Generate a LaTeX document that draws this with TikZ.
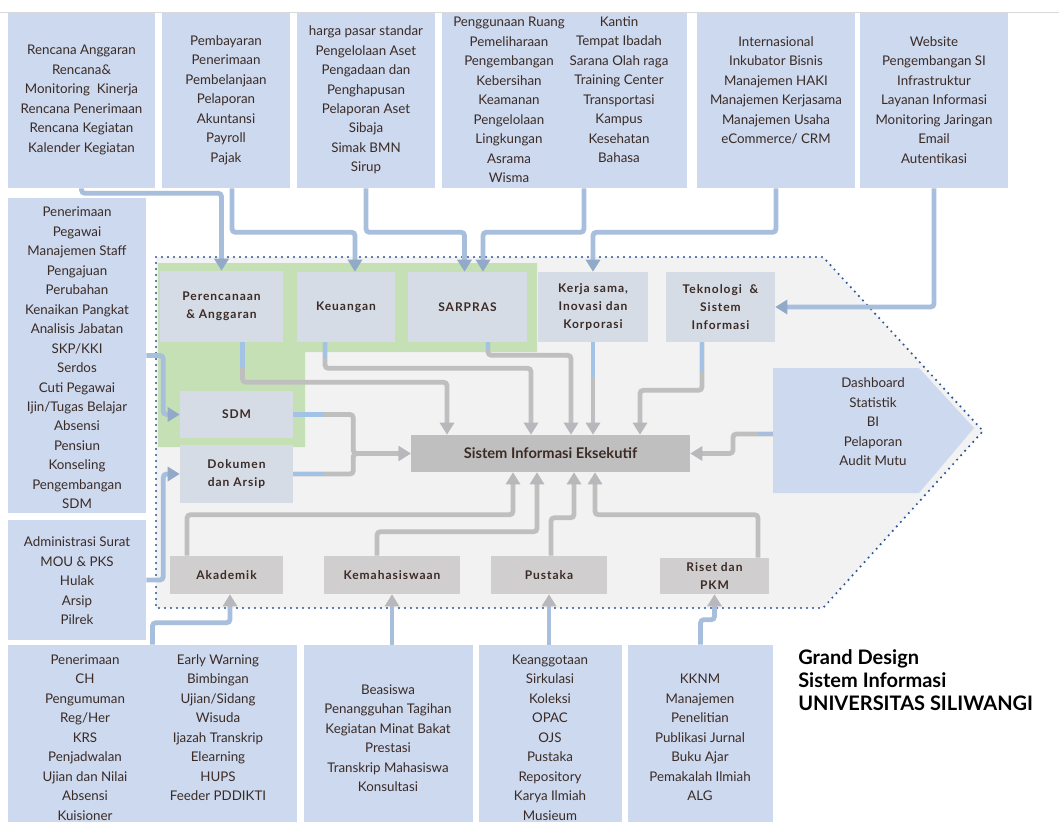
\documentclass[tikz,border=0pt]{standalone}
\usepackage{fontspec}
\setmainfont{Lato}
\newfontfamily\lblfont{Lato}[LetterSpace=8]
\usetikzlibrary{arrows.meta,calc}
\definecolor{oboxc}{HTML}{CCD9EE}
\definecolor{iboxc}{HTML}{D6DCE5}
\definecolor{lboxc}{HTML}{D0CECE}
\definecolor{siec}{HTML}{BFBFBF}
\definecolor{hexc}{HTML}{F2F2F2}
\definecolor{greenc}{HTML}{C5E0B4}
\definecolor{dotc}{HTML}{2E5597}
\definecolor{txtc}{HTML}{3B2B26}
\definecolor{lnblue}{HTML}{A8BEDD}
\definecolor{lnblue2}{HTML}{A3C3E6}
\definecolor{tipblue}{HTML}{93A9C8}
\definecolor{lngray}{HTML}{BFBFBF}
\definecolor{tipgray}{HTML}{B8B8BC}
\newcommand\bx[7]{%
  \pgfmathsetmacro\bxcx{(#3+#5)/2}%
  \pgfmathsetmacro\bxcy{(#4+#6)/2}%
  \pgfmathsetmacro\bxw{(#5-#3)*0.75}%
  \pgfmathsetmacro\bxh{(#6-#4)*0.75}%
  \node[#2, minimum width=\bxw pt, minimum height=\bxh pt] (#1) at (\bxcx,\bxcy) {#7};}
\begin{document}
\begin{tikzpicture}[x=0.75pt,y=-0.75pt,
  obox/.style={fill=oboxc, inner sep=0},
  ibox/.style={fill=iboxc, inner sep=0, text=txtc, align=center, font=\lblfont\bfseries\fontsize{9}{13.5}\selectfont},
  lbox/.style={fill=lboxc, inner sep=0, text=txtc, align=center, font=\lblfont\bfseries\fontsize{9}{13.5}\selectfont},
  siebox/.style={fill=siec, inner sep=0, text=txtc, font=\bfseries\fontsize{11}{13}\selectfont},
  txt/.style={text=txtc, align=center, inner sep=0, font=\fontsize{10}{14.6}\selectfont},
  bl/.style={line width=3.6pt, draw=lnblue, rounded corners=2.5pt},
  gl/.style={line width=3.6pt, draw=lngray, rounded corners=2.5pt},
  bseg/.style={line width=3.6pt, draw=lnblue2},
  tipB/.style={-{Triangle[width=10.5pt,length=9pt,color=tipblue]}},
  tipG/.style={-{Triangle[width=10.5pt,length=9pt,color=tipgray]}},
  title/.style={align=left, inner sep=0, anchor=north west, font=\bfseries\fontsize{15}{17.5}\selectfont}]
\useasboundingbox (0,0) rectangle (1059,821);
\clip (0,0) rectangle (1059,821);
\fill[white] (0,0) rectangle (1059,821);
\draw[black!15, line width=0.6pt] (0,12) -- (1059,12);

% hexagon frame
\fill[hexc] (156,257) -- (823,257) -- (983,431) -- (823,608) -- (156,608) -- cycle;
\fill[greenc] (158,263) -- (537,263) -- (537,352) -- (305,352) -- (305,447) -- (158,447) -- cycle;
\draw[dotc, line width=1.8pt, line cap=round, dash pattern=on 0pt off 4.5pt] (156,257) -- (823,257) -- (983,431) -- (823,608) -- (156,608) -- cycle;

% outer boxes top
\bx{T1}{obox}{8}{13}{155}{188}{}
\bx{T2}{obox}{162}{13}{290}{188}{}
\bx{T3}{obox}{297}{13}{435}{188}{}
\bx{T4}{obox}{442}{13}{687}{188}{}
\bx{T5}{obox}{697}{13}{855}{188}{}
\bx{T6}{obox}{860}{13}{1008}{188}{}
% left
\bx{L1}{obox}{8}{198}{146}{513}{}
\bx{L2}{obox}{8}{520}{146}{640}{}
% bottom
\bx{B1}{obox}{8}{645}{297}{835}{}
\bx{B2}{obox}{304}{645}{473}{835}{}
\bx{B3}{obox}{479}{645}{622}{835}{}
\bx{B4}{obox}{628}{645}{773}{835}{}

% texts
\node[txt] (T1t) at (81.5,100) {Rencana Anggaran\\Rencana\&\\Monitoring~~Kinerja\\Rencana Penerimaan\\Rencana Kegiatan\\Kalender Kegiatan};
\node[txt] (T2t) at (226,100) {Pembayaran\\Penerimaan\\Pembelanjaan\\Pelaporan\\Akuntansi\\Payroll\\Pajak};
\node[txt] (T3t) at (366,100) {harga pasar standar\\Pengelolaan Aset\\Pengadaan dan\\Penghapusan\\Pelaporan Aset\\Sibaja\\Simak BMN\\Sirup};
\node[txt] (T4a) at (509,100) {Penggunaan Ruang\\Pemeliharaan\\Pengembangan\\Kebersihan\\Keamanan\\Pengelolaan\\Lingkungan\\Asrama\\Wisma};
\node[txt] (T4b) at (619,89.5) {Kantin\\Tempat Ibadah\\Sarana Olah raga\\Training Center\\Transportasi\\Kampus\\Kesehatan\\Bahasa};
\node[txt] (T5t) at (776,90.5) {Internasional\\Inkubator Bisnis\\Manajemen HAKI\\Manajemen Kerjasama\\Manajemen Usaha\\eCommerce/ CRM};
\node[txt] (T6t) at (934,100) {Website\\Pengembangan SI\\Infrastruktur\\Layanan Informasi\\Monitoring Jaringan\\Email\\Autentikasi};
\node[txt] (L1t) at (77,358) {Penerimaan\\Pegawai\\Manajemen Staff\\Pengajuan\\Perubahan\\Kenaikan Pangkat\\Analisis Jabatan\\SKP/KKI\\Serdos\\Cuti Pegawai\\Ijin/Tugas Belajar\\Absensi\\Pensiun\\Konseling\\Pengembangan\\SDM};
\node[txt] (L2t) at (77,581) {Administrasi Surat\\MOU \& PKS\\Hulak\\Arsip\\Pilrek};
\node[txt] (B1a) at (85,737.5) {Penerimaan\\CH\\Pengumuman\\Reg/Her\\KRS\\Penjadwalan\\Ujian dan Nilai\\Absensi\\Kuisioner};
\node[txt] (B1b) at (218,727.5) {Early Warning\\Bimbingan\\Ujian/Sidang\\Wisuda\\Ijazah Transkrip\\Elearning\\HUPS\\Feeder PDDIKTI};
\node[txt] (B2t) at (388,738) {Beasiswa\\Penangguhan Tagihan\\Kegiatan Minat Bakat\\Prestasi\\Transkrip Mahasiswa\\Konsultasi};
\node[txt] (B3t) at (550,737.5) {Keanggotaan\\Sirkulasi\\Koleksi\\OPAC\\OJS\\Pustaka\\Repository\\Karya Ilmiah\\Musieum};
\node[txt] (B4t) at (700,737.5) {KKNM\\Manajemen\\Penelitian\\Publikasi Jurnal\\Buku Ajar\\Pemakalah Ilmiah\\ALG};

% dashboard
\fill[oboxc] (773,368) -- (919,368) -- (974,428) -- (919,493) -- (773,493) -- cycle;
\node[txt] (DBt) at (873,422) {Dashboard\\Statistik\\BI\\Pelaporan\\Audit Mutu};
\coordinate (dashL) at (773,434);

% module boxes
\bx{P}{ibox}{160}{271}{283}{342}{Perencanaan\\\& Anggaran}
\bx{K}{ibox}{297}{272}{395}{342}{Keuangan}
\bx{S}{ibox}{408}{272}{527}{342}{SARPRAS}
\bx{KS}{ibox}{538}{272}{648}{342}{Kerja sama,\\Inovasi dan\\Korporasi}
\bx{TS}{ibox}{666}{272}{775}{342}{Teknologi~~\&\\Sistem\\Informasi}
\bx{SDM}{ibox}{180}{391}{293}{438}{SDM}
\bx{DA}{ibox}{180}{445}{293}{503}{Dokumen\\dan Arsip}
\bx{SIE}{siebox}{411}{435}{690}{472}{Sistem Informasi Eksekutif}
\bx{Ak}{lbox}{170}{556}{283}{594}{Akademik}
\bx{Km}{lbox}{324}{556}{460}{594}{Kemahasiswaan}
\bx{Pu}{lbox}{491}{556}{607}{594}{Pustaka}
\bx{RP}{lbox}{660}{558}{769}{594}{Riset dan\\PKM}

% connectors: outer top -> modules
\draw[bl,tipB] (T1.south) -- ++(0,5) -| (P.north);
\draw[bl,tipB] ($(T2.south)+(6,0)$) -- ++(0,44) -| ($(K.north)+(9,0)$);
\draw[bl,tipB] (T3.south) -- ++(0,44) -| ($(S.north)+(-3,0)$);
\draw[bl,tipB] ($(T4.south)+(19.5,0)$) -- ++(0,44) -| ($(S.north)+(15.5,0)$);
\draw[bl,tipB] (T5.south) -- ++(0,44) -| (KS.north);
\draw[bl,tipB] (T6.south) |- (TS.east);

% left outer -> modules
\draw[bl,tipB] (L1.east) -- ++(17,0) |- (SDM.west);
\draw[bl,tipB] (L2.east) -- ++(17,0) |- (DA.west);

% modules -> SIE
\draw[gl,tipG] ($(P.south)+(21,0)$) -- ++(0,40) -| ($(SIE.north)+(-103.5,0)$);
\draw[gl,tipG] ($(K.south)+(-21,0)$) -- ++(0,26) -| ($(SIE.north)+(-19.5,0)$);
\draw[gl,tipG] ($(S.south)+(20.5,0)$) -- ++(0,13) -| ($(SIE.north)+(20.5,0)$);
\draw[gl,tipG] (KS.south) -- (KS.south |- SIE.north);
\draw[gl,tipG] ($(TS.south)+(-18.5,0)$) -- ++(0,48) -| ($(SIE.north)+(89.5,0)$);
\draw[gl,tipG] (SDM.east) -- ++(60,0) |- (SIE.west);
\draw[gl,tipG] (DA.east) -- ++(60,0) |- (SIE.west);
\draw[gl,tipG] (dashL) -- ++(-40,0) |- (SIE.east);
% blue starts
\draw[bseg] ($(P.south)+(21,0)$) -- ++(0,25);
\draw[bseg] ($(K.south)+(-21,0)$) -- ++(0,16);
\draw[bseg] ($(S.south)+(20.5,0)$) -- ++(0,8);
\draw[bseg] (KS.south) -- ++(0,35);
\draw[bseg] ($(TS.south)+(-18.5,0)$) -- ++(0,30);
\draw[bseg] (SDM.east) -- ++(30,0);
\draw[bseg] (DA.east) -- ++(30,0);
\draw[line width=3.6pt, draw=lnblue] (dashL) -- ++(-15,0);

% lower modules -> SIE
\draw[gl,tipG] ($(Ak.north)+(-39.5,0)$) -- ++(0,-41) -| ($(SIE.south)+(-37.5,0)$);
\draw[gl,tipG] ($(Km.north)+(-15,0)$) -- ++(0,-24) -| ($(SIE.south)+(-13.5,0)$);
\draw[gl,tipG] ($(Pu.north)+(2,0)$) -- ++(0,-38) -| ($(SIE.south)+(23.5,0)$);
\draw[gl,tipG] ($(RP.north)+(43.5,0)$) -- ++(0,-43) -| ($(SIE.south)+(44.5,0)$);

% bottom outer -> lower modules
\draw[bl,tipG] (B1.north) -- ++(0,-22) -| ($(Ak.south)+(3.5,0)$);
\draw[bl,tipG] (Km.south |- B2.north) -- (Km.south);
\draw[bl,tipG] (Pu.south |- B3.north) -- (Pu.south);
\draw[bl,tipG] (B4.north) -- ++(0,-25) -| (RP.south);

% title
\node[title] (title) at (798,649) {Grand Design\\Sistem Informasi\\UNIVERSITAS SILIWANGI};
\end{tikzpicture}
\end{document}
